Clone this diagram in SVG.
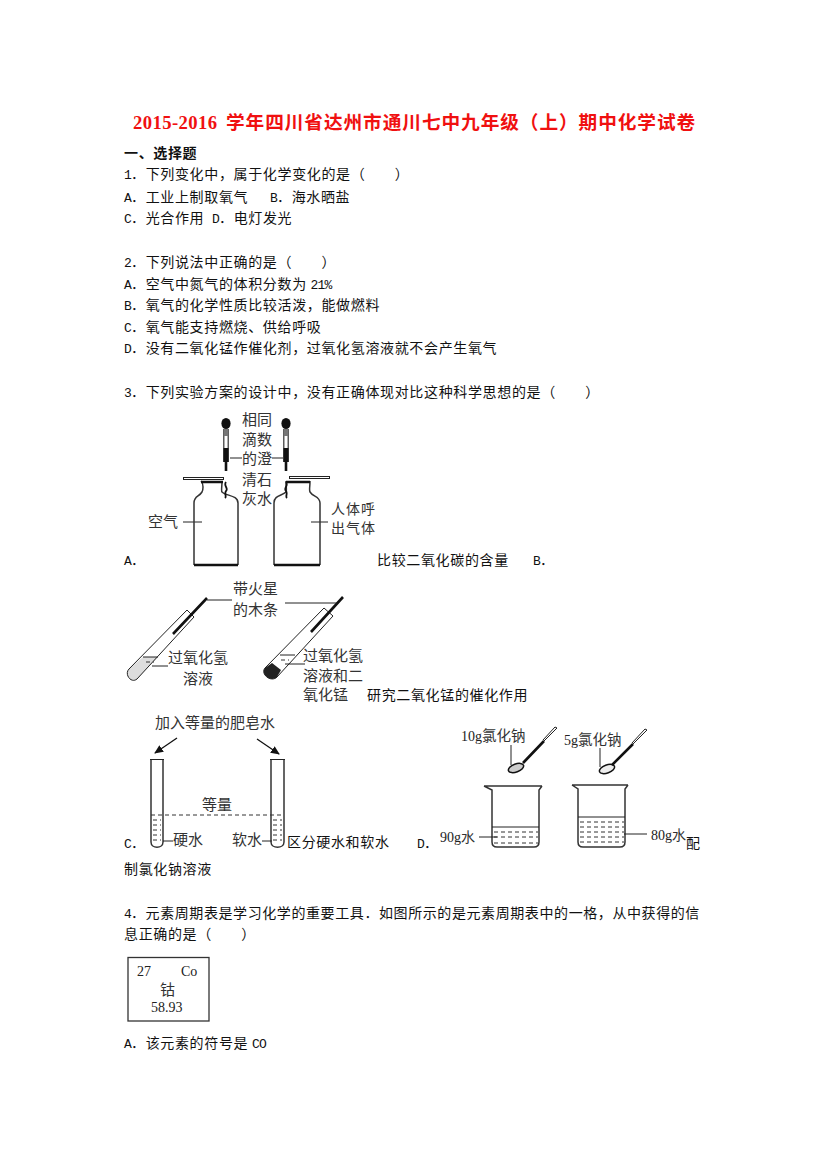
<svg xmlns="http://www.w3.org/2000/svg" width="827" height="1170" viewBox="0 0 827 1170">
<style>
text{font-family:"Noto Sans CJK SC",sans-serif;font-size:14px;letter-spacing:.65px;fill:#111}
.m{font-family:"Liberation Mono",monospace;font-size:13px;letter-spacing:-.8px}
.t{font-size:18.67px;font-weight:700;fill:#f01010;letter-spacing:.8px}
.tm{font-family:"Liberation Serif",serif;font-size:18.67px;font-weight:700;fill:#f01010;letter-spacing:.4px}
.b{font-weight:700}
.f{font-size:15px;letter-spacing:0;fill:#333}
.f2{font-size:14px;letter-spacing:1px;fill:#333}
.s{font-family:"Liberation Serif",serif;font-size:14px;letter-spacing:0;fill:#222}
.l{fill:none;stroke:#222;stroke-width:1}
.h{fill:none;stroke:#111;stroke-width:2.6}
.g{fill:none;stroke:#333;stroke-width:1.5}
.d{fill:none;stroke:#333;stroke-width:1;stroke-dasharray:4 3}
.a{fill:none;stroke:#111;stroke-width:1.3;marker-end:url(#ah)}
</style>
<defs>
<marker id="ah" markerWidth="9" markerHeight="8" refX="8" refY="4" orient="auto" markerUnits="userSpaceOnUse"><path d="M0 0L9 4L0 8z" fill="#111"/></marker>
<g id="dropper"><ellipse cx="0" cy="-1.500" rx="4.600" ry="5.500" fill="#111"/><path d="M-2.200 4V37M2.200 4V37" stroke="#333" stroke-width="1.200" fill="none"/><rect x="-2.200" y="4" width="4.400" height="7" fill="#777"/><rect x="-2.500" y="23" width="5" height="14" fill="#111"/><path d="M0 37V46" stroke="#111" stroke-width="2.600"/></g>
</defs>
<text class="tm" x="133" y="129">2015-2016</text>
<text class="t" x="226" y="129" textLength="470">学年四川省达州市通川七中九年级（上）期中化学试卷</text>
<g id="text-q1">
<text class="b" x="124" y="158">一、选择题</text>
<text x="124" y="179"><tspan class="m">1</tspan>．下列变化中，属于化学变化的是（　　）</text>
<text x="124" y="202"><tspan class="m">A</tspan>．工业上制取氧气</text>
<text x="270" y="202"><tspan class="m">B</tspan>．海水晒盐</text>
<text x="124" y="223"><tspan class="m">C</tspan>．光合作用</text>
<text x="212" y="223"><tspan class="m">D</tspan>．电灯发光</text>
</g>
<g id="text-q2">
<text x="124" y="267"><tspan class="m">2</tspan>．下列说法中正确的是（　　）</text>
<text x="124" y="289"><tspan class="m">A</tspan>．空气中氮气的体积分数为 <tspan class="m">21%</tspan></text>
<text x="124" y="310"><tspan class="m">B</tspan>．氧气的化学性质比较活泼，能做燃料</text>
<text x="124" y="332"><tspan class="m">C</tspan>．氧气能支持燃烧、供给呼吸</text>
<text x="124" y="353"><tspan class="m">D</tspan>．没有二氧化锰作催化剂，过氧化氢溶液就不会产生氧气</text>
</g>
<g id="text-q3">
<text x="124" y="397"><tspan class="m">3</tspan>．下列实验方案的设计中，没有正确体现对比这种科学思想的是（　　）</text>
<text x="124" y="565"><tspan class="m">A</tspan>．</text>
<text x="377" y="565">比较二氧化碳的含量</text>
<text x="533" y="565"><tspan class="m">B</tspan>．</text>
<text x="367" y="700">研究二氧化锰的催化作用</text>
<text x="124" y="848"><tspan class="m">C</tspan>．</text>
<text x="287" y="847">区分硬水和软水</text>
<text x="417" y="848"><tspan class="m">D</tspan>．</text>
<text x="686" y="848">配</text>
<text x="124" y="874">制氯化钠溶液</text>
</g>
<g id="text-q4">
<text x="124" y="918" textLength="576"><tspan class="m">4</tspan>．元素周期表是学习化学的重要工具．如图所示的是元素周期表中的一格，从中获得的信</text>
<text x="124" y="939">息正确的是（　　）</text>
<text x="124" y="1048"><tspan class="m">A</tspan>．该元素的符号是 <tspan class="m">CO</tspan></text>
</g>
<g id="fig-a">
<use href="#dropper" x="226" y="425"/><use href="#dropper" x="286" y="425"/>
<path class="l" d="M230 458H242M272 458H283M183 522H202M311 522H328"/>
<rect x="183.500" y="477.500" width="40" height="2" class="l"/><rect x="289.500" y="476.500" width="40" height="2" class="l"/>
<path class="g" d="M201 481C204 484 203 490 202 492C199 497 194 496 194 503V565M222 481C222 487 221 491 222 492C226 496 238 495 238 503V565"/>
<path class="g" d="M286 481C286 487 287 491 286 492C282 496 274 495 274 503V565M310 481C310 487 309 490 310 492C313 497 320 496 320 503V565"/>
<path class="h" d="M201 482H223M286 482H310M194 565H238M274 565H320"/>
<path d="M226 482C223 486 229 488 226 491C224 494 227 496 225 498M286 482C289 486 283 488 286 491C288 494 285 496 287 498" fill="none" stroke="#111" stroke-width="1.800"/>
<text class="f" x="242" y="425">相同</text><text class="f" x="242" y="445">滴数</text><text class="f" x="242" y="464">的澄</text><text class="f" x="242" y="485">清石</text><text class="f" x="242" y="504">灰水</text>
<text class="f" x="148" y="527">空气</text><text class="f2" x="331" y="514">人体呼</text><text class="f2" x="331" y="533">出气体</text>
</g>
<g id="fig-b">
<path fill="#ddd" d="M143 657L158 657L137 679C131 684 124 674 129 669Z"/>
<path fill="#222" d="M272 663L281 670L277 677C271 683 260 674 265 668Z"/>
<path class="l" d="M187 610L194 617L137 679C131 684 124 674 129 669ZM324 608L333 616L277 677C271 683 260 674 265 668Z"/>
<path class="h" d="M207 598L173 634M343 597L311 632"/>
<path class="l" d="M207 600H232M285 603H337M143 657H158M152 666H168M280 655H295M285 664H305"/>
<path class="d" d="M146 662H154M281 660H289"/>
<text class="f" x="233" y="594">带火星</text><text class="f" x="233" y="615">的木条</text>
<text class="f" x="168" y="663">过氧化氢</text><text class="f" x="183" y="684">溶液</text>
<text class="f" x="303" y="661">过氧化氢</text><text class="f" x="303" y="681">溶液和二</text><text class="f" x="303" y="700">氧化锰</text>
</g>
<g id="fig-c">
<path class="g" d="M151 759V842C151 849 163 849 163 842V759M271 759V842C271 849 284 849 284 842V759"/>
<path class="l" d="M150 759.500H164M270 759.500H285M163 841H173M262 841H272"/>
<path class="d" d="M151 815H284M153 820H161M153 825H161M153 830H161M153 835H161M153 840H161M273 820H282M273 825H282M273 830H282M273 835H282M273 840H282"/>
<path class="a" d="M177 738L155 753"/><path class="a" d="M257 739L279 754"/>
<text class="f" x="155" y="728">加入等量的肥皂水</text><text class="f" x="202" y="810">等量</text>
<text class="f" x="173" y="845">硬水</text><text class="f" x="232" y="845">软水</text>
</g>
<g id="fig-d">
<path class="g" d="M484 786H542M484 786L492 790V842C492 846 494 847 497 847H534C537 847 539 846 539 842V790L542 786M572 785H628M572 785L578 789V842C578 846 580 847 583 847H620C623 847 625 846 625 842V789L628 785"/>
<path class="l" d="M492 827H539M578 817H625M479 837H497M624 834H647M511 745V765M600 748V767"/>
<path class="d" d="M494 832H538M494 837H538M494 843H538M580 822H624M580 827H624M580 832H624M580 837H624M580 842H624"/>
<ellipse cx="516" cy="768" rx="8" ry="4" transform="rotate(-20 516 768)" fill="#ccc" stroke="#111" stroke-width="1.500"/>
<ellipse cx="607" cy="769" rx="8" ry="4" transform="rotate(-20 607 769)" fill="#eee" stroke="#111" stroke-width="1.500"/>
<path class="h" d="M523 763L544 741M612 765L633 744"/>
<path class="l" d="M544 741L557 728L555 727L543 740M633 744L647 730L645 729L632 743"/>
<text class="s" x="461" y="741">10g</text><text class="f" x="482" y="741" style="font-size:14.500px">氯化钠</text>
<text class="s" x="564" y="745">5g</text><text class="f" x="578" y="745" style="font-size:14.500px">氯化钠</text>
<text class="s" x="440" y="842">90g</text><text class="f" x="461" y="842" style="font-size:14px">水</text>
<text class="s" x="651" y="840">80g</text><text class="f" x="672" y="840" style="font-size:14px">水</text>
</g>
<g id="fig-cell">
<rect x="128" y="957.500" width="81" height="63.500" fill="none" stroke="#333" stroke-width="1.300"/>
<text class="s" x="137" y="976">27</text><text class="s" x="181" y="976">Co</text>
<text class="f" x="160" y="995">钴</text><text class="s" x="151" y="1012">58.93</text>
</g>
</svg>
